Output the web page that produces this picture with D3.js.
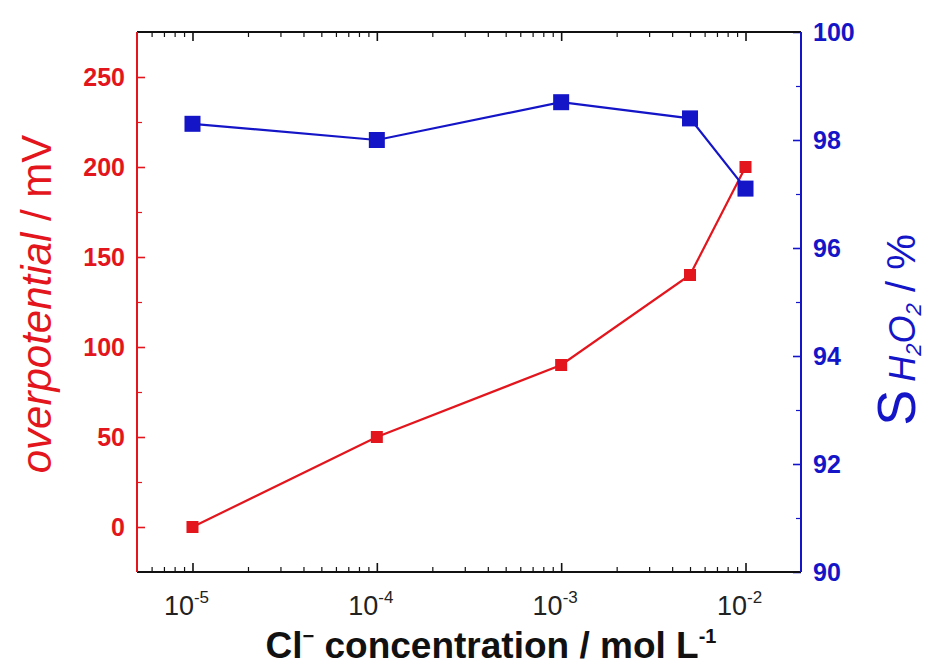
<!DOCTYPE html>
<html lang="en">
<head>
    <meta charset="utf-8">
    <script src="https://cdn.jsdelivr.net/npm/d3@7"></script>
    <style>
        body { margin: 0; background: #fff; }
        svg { font-family: "Liberation Sans", Arial, sans-serif; }
        .domain { display: none; }
    </style>
    <title>Overpotential and H2O2 selectivity vs Cl- concentration</title>
</head>
<body>
<svg></svg>
<script>
    // data
    const concentration = [1e-5, 1e-4, 1e-3, 5e-3, 1e-2];
    const overpotential = [0, 50, 90, 140, 200];
    const selectivity = [98.3, 98.0, 98.7, 98.4, 97.1];

    const xMajor = [1e-5, 1e-4, 1e-3, 1e-2];
    const xExponents = ["-5", "-4", "-3", "-2"];
    const leftTicks = [0, 50, 100, 150, 200, 250];
    const rightTicks = [90, 92, 94, 96, 98, 100];

    const red = "#e3151d";
    const blue = "#1515c8";

    const svgSize = {width: 932, height: 668};
    const plot = {left: 137, right: 801, top: 32, bottom: 572};

    const svg = d3.select("svg").attr("width", svgSize.width).attr("height", svgSize.height);

    const xScale = d3.scaleLog().domain([5e-6, 0.02]).range([plot.left, plot.right]);
    const yLeft = d3.scaleLinear().domain([-25, 275]).range([plot.bottom, plot.top]);
    const yRight = d3.scaleLinear().domain([90, 100]).range([plot.bottom, plot.top]);

    // minor ticks for the log axis
    let xMinor = [];
    for (let e = -6; e <= -2; e++) {
        for (let k = 2; k <= 9; k++) {
            const v = k * Math.pow(10, e);
            if (v > 5e-6 && v < 0.02) xMinor.push(v);
        }
    }
    const leftMinor = d3.range(-25, 276, 50).filter(v => v > -25 && v < 275);
    const rightMinor = [91, 93, 95, 97, 99];

    function tickGroup(axis, transform, color, width) {
        const g = svg.append("g").attr("transform", transform).call(axis);
        g.selectAll("line").attr("stroke", color).attr("stroke-width", width);
        g.selectAll("text").remove();
        return g;
    }

    // x ticks, bottom and top, pointing inward
    tickGroup(d3.axisBottom(xScale).tickValues(xMajor).tickSizeInner(-9).tickSizeOuter(0),
        `translate(0,${plot.bottom})`, "#111", 1.6);
    tickGroup(d3.axisBottom(xScale).tickValues(xMinor).tickSizeInner(-5).tickSizeOuter(0),
        `translate(0,${plot.bottom})`, "#111", 1.2);
    tickGroup(d3.axisTop(xScale).tickValues(xMajor).tickSizeInner(-9).tickSizeOuter(0),
        `translate(0,${plot.top})`, "#111", 1.6);
    tickGroup(d3.axisTop(xScale).tickValues(xMinor).tickSizeInner(-5).tickSizeOuter(0),
        `translate(0,${plot.top})`, "#111", 1.2);

    // left ticks
    tickGroup(d3.axisLeft(yLeft).tickValues(leftTicks).tickSizeInner(-8).tickSizeOuter(0),
        `translate(${plot.left},0)`, red, 1.6);
    tickGroup(d3.axisLeft(yLeft).tickValues(leftMinor).tickSizeInner(-5).tickSizeOuter(0),
        `translate(${plot.left},0)`, red, 1.2);

    // right ticks
    tickGroup(d3.axisRight(yRight).tickValues(rightTicks).tickSizeInner(-8).tickSizeOuter(0),
        `translate(${plot.right},0)`, blue, 1.6);
    tickGroup(d3.axisRight(yRight).tickValues(rightMinor).tickSizeInner(-5).tickSizeOuter(0),
        `translate(${plot.right},0)`, blue, 1.2);

    // frame
    svg.append("line").attr("x1", plot.left).attr("x2", plot.right)
        .attr("y1", plot.top).attr("y2", plot.top).attr("stroke", "#111").attr("stroke-width", 2);
    svg.append("line").attr("x1", plot.left).attr("x2", plot.right)
        .attr("y1", plot.bottom).attr("y2", plot.bottom).attr("stroke", "#111").attr("stroke-width", 2);
    svg.append("line").attr("x1", plot.left).attr("x2", plot.left)
        .attr("y1", plot.top).attr("y2", plot.bottom).attr("stroke", red).attr("stroke-width", 2);
    svg.append("line").attr("x1", plot.right).attr("x2", plot.right)
        .attr("y1", plot.top).attr("y2", plot.bottom).attr("stroke", blue).attr("stroke-width", 2);

    // tick labels
    const xLabels = svg.append("g").selectAll("text")
        .data(xMajor)
        .join("text")
        .attr("x", d => xScale(d) - 6)
        .attr("y", plot.bottom + 43)
        .attr("text-anchor", "middle")
        .attr("font-size", 27)
        .attr("fill", "#222");
    xLabels.append("tspan").text("10");
    xLabels.append("tspan").attr("dy", -12).attr("font-size", 17).text((d, i) => xExponents[i]);

    svg.append("g").selectAll("text")
        .data(leftTicks)
        .join("text")
        .attr("x", plot.left - 12)
        .attr("y", d => yLeft(d) + 9)
        .attr("text-anchor", "end")
        .attr("font-size", 25)
        .attr("font-weight", "bold")
        .attr("fill", red)
        .text(d => d);

    svg.append("g").selectAll("text")
        .data(rightTicks)
        .join("text")
        .attr("x", plot.right + 12)
        .attr("y", d => yRight(d) + 9)
        .attr("text-anchor", "start")
        .attr("font-size", 25)
        .attr("font-weight", "bold")
        .attr("fill", blue)
        .text(d => d);

    // axis titles
    const xTitle = svg.append("text")
        .attr("x", 491)
        .attr("y", 658)
        .attr("text-anchor", "middle")
        .attr("font-size", 37)
        .attr("font-weight", "bold")
        .attr("fill", "#111");
    xTitle.append("tspan").text("Cl");
    xTitle.append("tspan").attr("dy", -15).attr("font-size", 20).text("\u2212");
    xTitle.append("tspan").attr("dy", 15).text(" concentration / mol L");
    xTitle.append("tspan").attr("dy", -15).attr("font-size", 20).text("-1");

    const yTitle = svg.append("text")
        .attr("transform", `translate(51,304) rotate(-90)`)
        .attr("text-anchor", "middle")
        .attr("font-size", 42)
        .attr("fill", red);
    yTitle.append("tspan").attr("font-style", "italic").text("overpotential");
    yTitle.append("tspan").text(" / mV");

    const y2Title = svg.append("text")
        .attr("transform", `translate(915,330) rotate(-90)`)
        .attr("text-anchor", "middle")
        .attr("fill", blue);
    y2Title.append("tspan").attr("font-size", 54).text("S");
    y2Title.append("tspan").attr("font-size", 36).attr("font-style", "italic").attr("dx", 8).text("H");
    y2Title.append("tspan").attr("font-size", 22).attr("font-style", "italic").attr("dy", 6).text("2");
    y2Title.append("tspan").attr("font-size", 36).attr("font-style", "italic").attr("dy", -6).text("O");
    y2Title.append("tspan").attr("font-size", 22).attr("font-style", "italic").attr("dy", 6).text("2");
    y2Title.append("tspan").attr("font-size", 40).attr("dy", -6).text("  / %");

    // series
    const redLine = d3.line().x(d => xScale(d[0])).y(d => yLeft(d[1]));
    const blueLine = d3.line().x(d => xScale(d[0])).y(d => yRight(d[1]));
    const redData = concentration.map((c, i) => [c, overpotential[i]]);
    const blueData = concentration.map((c, i) => [c, selectivity[i]]);

    svg.append("path").datum(redData)
        .attr("d", redLine).attr("fill", "none").attr("stroke", red).attr("stroke-width", 2.2);
    svg.append("g").selectAll("rect").data(redData).join("rect")
        .attr("x", d => xScale(d[0]) - 6)
        .attr("y", d => yLeft(d[1]) - 6)
        .attr("width", 12).attr("height", 12)
        .attr("fill", red);

    svg.append("path").datum(blueData)
        .attr("d", blueLine).attr("fill", "none").attr("stroke", blue).attr("stroke-width", 2.2);
    svg.append("g").selectAll("rect").data(blueData).join("rect")
        .attr("x", d => xScale(d[0]) - 8)
        .attr("y", d => yRight(d[1]) - 8)
        .attr("width", 16).attr("height", 16)
        .attr("fill", blue);
</script>
</body>
</html>
